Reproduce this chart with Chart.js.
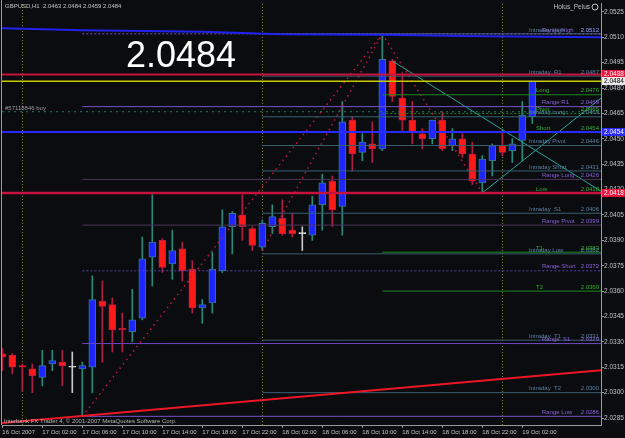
<!DOCTYPE html>
<html>
<head>
<meta charset="utf-8">
<script src="https://cdn.jsdelivr.net/npm/chart.js@4"></script>
<style>
  html, body { margin: 0; padding: 0; background: #0a0c10; }
  #wrap { width: 625px; height: 438px; }
</style>
</head>
<body>
<div id="wrap"><canvas id="mtChart" width="625" height="438"></canvas></div>
<script>
// GBPUSD H1, hours counted from 17 Oct 2007 00:00
var hours = [-2, -1, 0, 1, 2, 3, 4, 5, 6, 7, 8, 9, 10, 11, 12, 13, 14, 15, 16, 17, 18, 19, 20, 21, 22, 23, 24, 25,
  26, 27, 28, 29, 30, 31, 32, 33, 34, 35, 36, 37, 38, 39, 40, 41, 42, 43, 44, 45, 46, 47, 48, 49, 50, 51];
var opens = [2.0323, 2.0322, 2.0316, 2.0314, 2.0309, 2.0317, 2.0318, 2.0315, 2.0314, 2.0315, 2.0354, 2.0352, 2.0338, 2.0336,
  2.0344, 2.0380, 2.0390, 2.0376, 2.0385, 2.0373, 2.0350, 2.0353, 2.0372, 2.0398, 2.0405, 2.0397, 2.0386, 2.0398,
  2.0403, 2.0396, 2.0394, 2.0393, 2.0411, 2.0425, 2.0410, 2.0461, 2.0442, 2.0447, 2.0444, 2.0496, 2.0474, 2.0461,
  2.0453, 2.0450, 2.0461, 2.0446, 2.0450, 2.0441, 2.0424, 2.0437, 2.0446, 2.0443, 2.0449, 2.0463];
var highs = [2.0326, 2.0323, 2.0317, 2.0317, 2.0325, 2.0325, 2.0325, 2.0324, 2.0318, 2.0369, 2.0366, 2.0356, 2.0347, 2.0361,
  2.0392, 2.0417, 2.0391, 2.0396, 2.0389, 2.0378, 2.0355, 2.0383, 2.0408, 2.0407, 2.0417, 2.0398, 2.0402, 2.0411,
  2.0414, 2.0406, 2.0398, 2.0416, 2.0429, 2.0428, 2.0472, 2.0463, 2.0453, 2.0460, 2.0512, 2.0497, 2.0489, 2.0472,
  2.0456, 2.0461, 2.0466, 2.0456, 2.0453, 2.0448, 2.0440, 2.0447, 2.0454, 2.0450, 2.0472, 2.0484];
var lows = [2.0313, 2.0311, 2.0301, 2.0300, 2.0304, 2.0313, 2.0304, 2.0300, 2.0286, 2.0300, 2.0318, 2.0324, 2.0324, 2.0330,
  2.0343, 2.0363, 2.0371, 2.0367, 2.0366, 2.0347, 2.0341, 2.0347, 2.0371, 2.0382, 2.0390, 2.0384, 2.0384, 2.0394,
  2.0393, 2.0392, 2.0384, 2.0390, 2.0396, 2.0398, 2.0393, 2.0431, 2.0437, 2.0436, 2.0443, 2.0472, 2.0455, 2.0447,
  2.0444, 2.0447, 2.0443, 2.0443, 2.0439, 2.0423, 2.0418, 2.0428, 2.0440, 2.0436, 2.0437, 2.0459];
var closes = [2.0321, 2.0315, 2.0315, 2.0310, 2.0316, 2.0319, 2.0316, 2.0315, 2.0316, 2.0355, 2.0351, 2.0337, 2.0337, 2.0343,
  2.0379, 2.0389, 2.0374, 2.0384, 2.0372, 2.0350, 2.0352, 2.0373, 2.0398, 2.0406, 2.0398, 2.0387, 2.0400, 2.0404,
  2.0394, 2.0394, 2.0394, 2.0411, 2.0424, 2.0408, 2.0460, 2.0441, 2.0448, 2.0444, 2.0497, 2.0475, 2.0461, 2.0454,
  2.0450, 2.0461, 2.0444, 2.0450, 2.0441, 2.0425, 2.0438, 2.0446, 2.0442, 2.0447, 2.0464, 2.0484];

var tickHours = [-2, 2, 6, 10, 14, 18, 22, 26, 30, 34, 38, 42, 46, 50];
var tickLabels = ["16 Oct 2007", "17 Oct 02:00", "17 Oct 06:00", "17 Oct 10:00", "17 Oct 14:00", "17 Oct 18:00",
  "17 Oct 22:00", "18 Oct 02:00", "18 Oct 06:00", "18 Oct 10:00", "18 Oct 14:00", "18 Oct 18:00", "18 Oct 22:00",
  "19 Oct 02:00"];
var priceTicks = [2.0525, 2.0510, 2.0495, 2.0480, 2.0465, 2.0450, 2.0435, 2.0420, 2.0405, 2.0390, 2.0375, 2.0360,
  2.0345, 2.0330, 2.0315, 2.0300, 2.0285];
var daySeparators = [0, 24, 48];

// pivot levels
var rangeNames = ["Range High", "Range R1", "Range Long", "Range Pivot", "Range Short", "Range  S1", "Range Low"];
var rangeValues = [2.0512, 2.0469, 2.0426, 2.0399, 2.0372, 2.0329, 2.0286];
var rangeStart = 6;
var intradayNames = ["Intraday High", "Intraday  R1", "Intraday Long", "Intraday Pivot", "Intraday Short",
  "Intraday  S1", "Intraday Low", "Intraday  T1", "Intraday  T2"];
var intradayValues = [2.0512, 2.0487, 2.0463, 2.0446, 2.0431, 2.0406, 2.0382, 2.0331, 2.0300];
var intradayStart = 24;
var targetNames = ["Long", "Pivot", "Short", "Low", "T1", "T2"];
var targetValues = [2.0476, 2.0465, 2.0454, 2.0418, 2.0383, 2.0360];
var targetStart = 36;

var bidPrice = 2.0484;
var orderPrice = 2.0466;
var orderLabel = "#57118846 buy";
var redLevels = [2.0488, 2.0418];
var blueLevel = 2.0454;

// blue band near the top, and the long red trend line at the bottom
var bandHours = [-2.03, 2, 6, 14, 18, 22, 26, 36, 44, 52, 57.87];
var bandValues = [2.05153, 2.05147, 2.05141, 2.05136, 2.05132, 2.05125, 2.05118, 2.05114, 2.05108, 2.05103, 2.05100];
var trendHours = [-2.03, 57.87];
var trendValues = [2.02821, 2.03132];
// dotted fan lines and the two teal lines
var fanA = { h: [6, 36], v: [2.0286, 2.0512] };
var fanB = { h: [24, 36], v: [2.0384, 2.0512] };
var fanC = { h: [36, 46], v: [2.0512, 2.0418] };
var tealDown = { h: [37, 57.87], v: [2.0496, 2.0419] };
var tealUp = { h: [46, 57.87], v: [2.0418, 2.0474] };

var X_MIN = -2.03, X_MAX = 57.87;
var Y_MIN = 2.028088, Y_MAX = 2.05297;

var FONT = "'Liberation Sans', Arial, sans-serif";
var FG = "#c4c4c4";

function seg(h, v, color, width, dash) {
  return {
    type: "line",
    data: h.map(function (x, i) { return { x: x, y: v[i] }; }),
    borderColor: color,
    borderWidth: width,
    borderDash: dash || [],
    pointRadius: 0,
    fill: false,
    order: 0
  };
}
function level(start, value, color, width, dash) {
  return seg([start, X_MAX], [value, value], color, width, dash);
}

var bull = "#1e26ff", bear = "#ff1a1a";
var bodyFill = [], bodyLine = [], wickColor = [];
hours.forEach(function (h, i) {
  if (closes[i] > opens[i]) { bodyFill.push(bull); bodyLine.push("#2f7890"); wickColor.push("#2a8a7a"); }
  else if (closes[i] < opens[i]) { bodyFill.push(bear); bodyLine.push("#b81c40"); wickColor.push("#b01c44"); }
  else { bodyFill.push("#e8e8e8"); bodyLine.push("#e8e8e8"); wickColor.push("#c8c8c8"); }
});

var datasets = [];
// full width lines
datasets.push(seg(bandHours, bandValues, "#2222ee", 2));
datasets.push(level(X_MIN, redLevels[0], "#c8123e", 2));
datasets.push(level(X_MIN, bidPrice, "#c8c800", 1.5));
datasets.push(level(X_MIN, orderPrice, "#1d7a68", 1, [2, 4]));
datasets.push(level(X_MIN, blueLevel, "#2a2aff", 2));
datasets.push(level(X_MIN, redLevels[1], "#c8123e", 2.5));
datasets.push(seg(trendHours, trendValues, "#ee1626", 2));

var rangeColors = ["#7a50c8", "#7a50c8", "#4e3658", "#4e3658", "#5a44b0", "#6a48c0", "#7a50c8"];
var rangeDash = [[2, 2], [], [], [], [2, 2], [], []];
rangeValues.forEach(function (v, i) { datasets.push(level(rangeStart, v, rangeColors[i], 1, rangeDash[i])); });
intradayValues.forEach(function (v) { datasets.push(level(intradayStart, v, "#39606f", 1)); });
var targetDash = [[], [2, 2], [], [], [], []];
targetValues.forEach(function (v, i) { datasets.push(level(targetStart, v, "#1f8a1f", 1, targetDash[i])); });

datasets.push(seg(fanA.h, fanA.v, "#c41a3c", 1.5, [1.5, 4]));
datasets.push(seg(fanB.h, fanB.v, "#c41a3c", 1.5, [1.5, 4]));
datasets.push(seg(fanC.h, fanC.v, "#c41a3c", 1.5, [1.5, 4]));
datasets.push(seg(tealDown.h, tealDown.v, "#2aa69a", 1));
datasets.push(seg(tealUp.h, tealUp.v, "#2aa69a", 1));

datasets.push({
  type: "bar",
  data: hours.map(function (h, i) { return { x: h, y: [opens[i], closes[i]] }; }),
  backgroundColor: bodyFill,
  borderColor: bodyLine,
  borderWidth: 1,
  borderSkipped: false,
  barThickness: 7,
  minBarLength: 1,
  grouped: false,
  order: 1
});
datasets.push({
  type: "bar",
  data: hours.map(function (h, i) { return { x: h, y: [lows[i], highs[i]] }; }),
  backgroundColor: wickColor,
  borderWidth: 0,
  barThickness: 1,
  grouped: false,
  order: 2
});

function text(ctx, s, x, y, color, font, align) {
  ctx.fillStyle = color;
  ctx.font = font;
  ctx.textAlign = align || "left";
  ctx.textBaseline = "middle";
  ctx.fillText(s, x, y);
}

var overlay = {
  id: "overlay",
  beforeDatasetsDraw: function (chart) {
    var ctx = chart.ctx, a = chart.chartArea, xs = chart.scales.x;
    ctx.save();
    ctx.strokeStyle = "#8a8a40";
    ctx.lineWidth = 1;
    ctx.setLineDash([1, 2]);
    daySeparators.forEach(function (h) {
      var px = Math.round(xs.getPixelForValue(h)) + 0.5;
      ctx.beginPath(); ctx.moveTo(px, a.top); ctx.lineTo(px, a.bottom); ctx.stroke();
    });
    ctx.setLineDash([]);
    ctx.strokeStyle = "#9a9a9a";
    ctx.beginPath(); ctx.moveTo(a.left - 0.5, 0); ctx.lineTo(a.left - 0.5, a.bottom); ctx.stroke();
    ctx.restore();
  },
  afterDatasetsDraw: function (chart) {
    var ctx = chart.ctx, a = chart.chartArea, ys = chart.scales.y;
    var f = "6px " + FONT;
    ctx.save();
    rangeValues.forEach(function (v, i) {
      var y = ys.getPixelForValue(v) - 4;
      text(ctx, rangeNames[i], a.right - 59, y, "#8a62dc", f);
      text(ctx, v.toFixed(4), a.right - 2, y, "#8a62dc", f, "right");
    });
    intradayValues.forEach(function (v, i) {
      var y = ys.getPixelForValue(v) - 4;
      text(ctx, intradayNames[i], a.right - 72, y, "#5a82a0", f);
      text(ctx, v.toFixed(4), a.right - 2, y, "#5a82a0", f, "right");
    });
    targetValues.forEach(function (v, i) {
      var y = ys.getPixelForValue(v) - 4;
      text(ctx, targetNames[i], a.right - 65, y, "#2fb02f", f);
      text(ctx, v.toFixed(4), a.right - 2, y, "#2fb02f", f, "right");
    });
    text(ctx, orderLabel, a.left + 3, ys.getPixelForValue(orderPrice) - 3, "#9a9a9a", "6px " + FONT);
    text(ctx, bidPrice.toFixed(4), a.left + 124, 57, "#ffffff", "36px " + FONT);
    ctx.restore();
  },
  afterDraw: function (chart) {
    var ctx = chart.ctx, a = chart.chartArea, ys = chart.scales.y;
    ctx.save();
    text(ctx, "GBPUSD,H1  " + opens[opens.length - 1].toFixed(4) + " " + highs[highs.length - 1].toFixed(4) + " " +
      lows[lows.length - 1].toFixed(4) + " " + closes[closes.length - 1].toFixed(4), a.left + 3, 6, FG, "6px " + FONT);
    text(ctx, "Holus_Pelus", a.right - 11, 7, FG, "6.5px " + FONT, "right");
    ctx.strokeStyle = FG; ctx.lineWidth = 1;
    ctx.beginPath(); ctx.arc(a.right - 6, 7, 3, 0, Math.PI * 2); ctx.stroke();
    text(ctx, "Interbank FX Trader 4, \u00a9 2001-2007 MetaQuotes Software Corp.", a.left + 2, a.bottom - 4, "#b4b4b4", "6px " + FONT);
    // price boxes on the axis
    var boxes = [[redLevels[0], "#e8143c", "#ffffff"], [bidPrice, "#e8e8e8", "#000000"],
      [blueLevel, "#2a2aff", "#ffffff"], [redLevels[1], "#e8143c", "#ffffff"]];
    boxes.forEach(function (b) {
      var y = Math.round(ys.getPixelForValue(b[0]));
      ctx.fillStyle = b[1];
      ctx.fillRect(a.right + 1, y - 4, 24, 8);
      text(ctx, b[0].toFixed(4), a.right + 3, y, b[2], "6.5px " + FONT);
    });
    ctx.restore();
  }
};

new Chart(document.getElementById("mtChart"), {
  data: { datasets: datasets },
  options: {
    responsive: false,
    animation: false,
    events: [],
    layout: { padding: { left: 2, top: 2, right: 0, bottom: 0 } },
    plugins: { legend: { display: false }, tooltip: { enabled: false } },
    scales: {
      x: {
        type: "linear",
        min: X_MIN,
        max: X_MAX,
        offset: false,
        afterBuildTicks: function (s) { s.ticks = tickHours.map(function (v) { return { value: v }; }); },
        afterFit: function (s) { s.height = 13; },
        grid: { offset: false, drawOnChartArea: false, drawTicks: true, tickLength: 3, color: "#9a9a9a" },
        border: { display: true, color: "#9a9a9a" },
        ticks: {
          autoSkip: false, maxRotation: 0, minRotation: 0, align: "start", padding: 1,
          color: FG, font: { family: FONT, size: 6 },
          callback: function (v, i) { return tickLabels[i]; }
        }
      },
      y: {
        type: "linear",
        position: "right",
        min: Y_MIN,
        max: Y_MAX,
        afterBuildTicks: function (s) { s.ticks = priceTicks.map(function (v) { return { value: v }; }); },
        afterFit: function (s) { s.width = 24; },
        grid: { drawOnChartArea: false, drawTicks: true, tickLength: 3, color: "#9a9a9a" },
        border: { display: true, color: "#9a9a9a" },
        ticks: {
          padding: 0, color: FG, font: { family: FONT, size: 6.5 },
          callback: function (v) { return v.toFixed(4); }
        }
      }
    }
  },
  plugins: [overlay]
});
</script>
</body>
</html>
